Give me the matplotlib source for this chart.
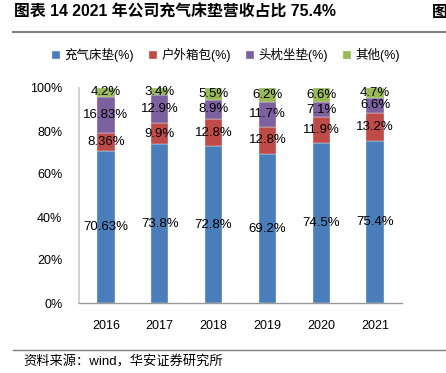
import matplotlib
matplotlib.use("Agg")
import matplotlib.pyplot as plt
import numpy as np

plt.rcParams['font.family'] = ['Liberation Sans', 'Noto Sans CJK SC', 'DejaVu Sans']

years = ['2016', '2017', '2018', '2019', '2020', '2021']
series_names = ['充气床垫(%)', '户外箱包(%)', '头枕坐垫(%)', '其他(%)']
air_mattress = [70.63, 73.8, 72.8, 69.2, 74.5, 75.4]
outdoor_bags = [8.36, 9.9, 12.8, 12.8, 11.9, 13.2]
pillows = [16.83, 12.9, 8.9, 11.7, 7.1, 6.6]
others = [4.2, 3.4, 5.5, 6.2, 6.6, 4.7]
label_text = [
    ['70.63%', '73.8%', '72.8%', '69.2%', '74.5%', '75.4%'],
    ['8.36%', '9.9%', '12.8%', '12.8%', '11.9%', '13.2%'],
    ['16.83%', '12.9%', '8.9%', '11.7%', '7.1%', '6.6%'],
    ['4.2%', '3.4%', '5.5%', '6.2%', '6.6%', '4.7%'],
]
colors = ['#4A7EBB', '#BE4B48', '#7D60A0', '#98B954']

fig = plt.figure(figsize=(4.46, 3.73), dpi=100)
ax = fig.add_axes([79/446, 1-303/373, (402-79)/446, (303-88)/373])

x = np.arange(len(years))
data = [air_mattress, outdoor_bags, pillows, others]
bottom = np.zeros(len(years))
handles = []
for vals, col, name, labs in zip(data, colors, series_names, label_text):
    v = np.array(vals) / 100.0
    b = ax.bar(x, v, width=0.32, bottom=bottom, color=col, label=name,
               edgecolor='#E8E8E8', linewidth=0.3)
    handles.append(b)
    for xi, bi, vi, t in zip(x, bottom, v, labs):
        ax.text(xi, bi + vi/2, t, ha='center', va='center', fontsize=9.5, color='black')
    bottom = bottom + v

ax.set_xlim(-0.5, 5.5)
ax.set_ylim(0, 1.0)
ax.set_yticks(np.arange(0, 1.01, 0.2))
ax.set_yticklabels([f'{int(round(t*100))}%' for t in np.arange(0, 1.01, 0.2)], fontsize=9)
ax.set_xticks(x)
ax.set_xticklabels(years, fontsize=9)
ax.tick_params(axis='both', length=0)
ax.tick_params(axis='y', pad=12)
ax.tick_params(axis='x', pad=12)
for s in ['top', 'right']:
    ax.spines[s].set_visible(False)
ax.spines['left'].set_color('#C8C8C8')
ax.spines['left'].set_linewidth(1.2)
ax.spines['bottom'].set_color('#999999')
ax.spines['bottom'].set_linewidth(1.0)

fig.legend(handles=handles, labels=series_names, loc='center',
           bbox_to_anchor=(226/446, 1-55/373), ncol=4, frameon=False,
           fontsize=9, handlelength=0.6, handleheight=0.6, handletextpad=0.4,
           columnspacing=1.2)

# Title and decorations
fig.text(14/446, 1-12/373, '图表 14 2021 年公司充气床垫营收占比 75.4%', fontsize=11.4,
         fontweight='bold', ha='left', va='center')
fig.text(432/446, 1-12/373, '图', fontsize=11.4, fontweight='bold', ha='left', va='center')
fig.add_artist(plt.Line2D([13/446, 1.0], [1-32/373, 1-32/373], color='#7F7F7F', linewidth=1.5))
fig.add_artist(plt.Line2D([13/446, 1.0], [1-350/373, 1-350/373], color='#7F7F7F', linewidth=1.0))
fig.text(23/446, 1-362/373, '资料来源：wind，华安证券研究所', fontsize=9.5,
         ha='left', va='center')

fig.savefig('out.png', dpi=100)
